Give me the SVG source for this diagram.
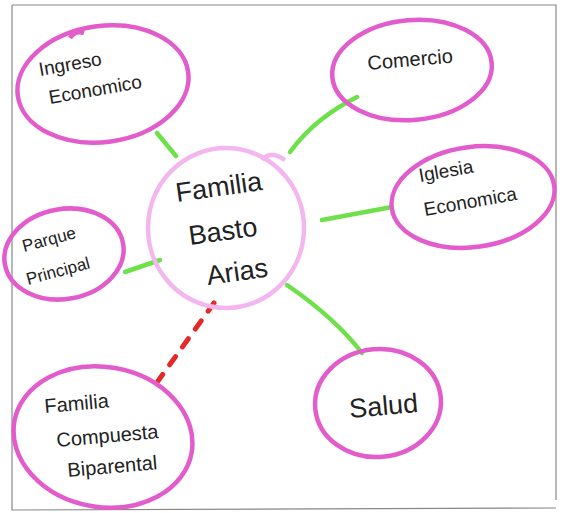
<svg xmlns="http://www.w3.org/2000/svg" width="568" height="513" viewBox="0 0 568 513">
<style>
.node{fill:none;stroke:#e25ccb;stroke-width:4.5}
.center{fill:none;stroke:#f3b6ee;stroke-width:4.5}
.lbl{font-family:"Liberation Sans",Arial,sans-serif;fill:#222;font-weight:normal}
.g{stroke:#6ee04a;stroke-width:4.5;stroke-linecap:round;fill:none}
.r{stroke:#e52828;stroke-width:5;stroke-linecap:round;stroke-dasharray:10 12;fill:none}
</style>
<rect width="568" height="513" fill="#ffffff"/>
<path d="M12 5 L556 5 L556 500 M12 5 L12 510 L556 508" fill="none" stroke="#888" stroke-width="1.2"/>
<g id="connectors">
<path class="g" d="M157 133 L176 156"/>
<path class="g" d="M357 97 Q315 118 290 152"/>
<path class="g" d="M392 207 L322 220"/>
<path class="g" d="M125 272 L160 260"/>
<path class="g" d="M287 285 Q335 318 362 353"/>
<path class="r" d="M214 303 L158 381"/>
</g>
<g id="ingreso">
<ellipse class="node" cx="103" cy="84" rx="86" ry="58" transform="rotate(-8 103 84)"/>
<path class="node" d="M70 38 Q75 30 84 33"/>
<text class="lbl" font-size="19" transform="translate(40 76) rotate(-10)">Ingreso</text>
<text class="lbl" font-size="19" transform="translate(50 104) rotate(-10)">Economico</text>
</g>
<g id="comercio">
<ellipse class="node" cx="412" cy="70" rx="80" ry="50" transform="rotate(-5 412 70)"/>
<text class="lbl" font-size="20" transform="translate(368 70) rotate(-5)">Comercio</text>
</g>
<g id="iglesia">
<ellipse class="node" cx="473" cy="197" rx="82" ry="50" transform="rotate(-8 473 197)"/>
<text class="lbl" font-size="19" transform="translate(420 182) rotate(-10)">Iglesia</text>
<text class="lbl" font-size="19" transform="translate(425 216) rotate(-10)">Economica</text>
</g>
<g id="familia-basto-arias">
<ellipse class="center" cx="226" cy="228" rx="78" ry="80"/>
<path class="center" d="M262 160 Q270 150 285 160"/>
<text class="lbl" font-size="27" transform="translate(177 202) rotate(-8)">Familia</text>
<text class="lbl" font-size="27" transform="translate(190 245) rotate(-8)">Basto</text>
<text class="lbl" font-size="27" transform="translate(208 285) rotate(-8)">Arias</text>
</g>
<g id="parque">
<ellipse class="node" cx="64" cy="254" rx="60" ry="45" transform="rotate(-10 64 254)"/>
<text class="lbl" font-size="17" transform="translate(24 252) rotate(-15)">Parque</text>
<text class="lbl" font-size="17" transform="translate(28 285) rotate(-15)">Principal</text>
</g>
<g id="familia-compuesta">
<ellipse class="node" cx="103" cy="437" rx="90" ry="70" transform="rotate(10 103 437)"/>
<text class="lbl" font-size="20" transform="translate(45 413) rotate(-5)">Familia</text>
<text class="lbl" font-size="20" transform="translate(57 447) rotate(-5)">Compuesta</text>
<text class="lbl" font-size="20" transform="translate(68 477) rotate(-5)">Biparental</text>
</g>
<g id="salud">
<ellipse class="node" cx="378" cy="403" rx="63" ry="54" transform="rotate(-5 378 403)"/>
<text class="lbl" font-size="27" transform="translate(350 418) rotate(-5)">Salud</text>
</g>
</svg>
